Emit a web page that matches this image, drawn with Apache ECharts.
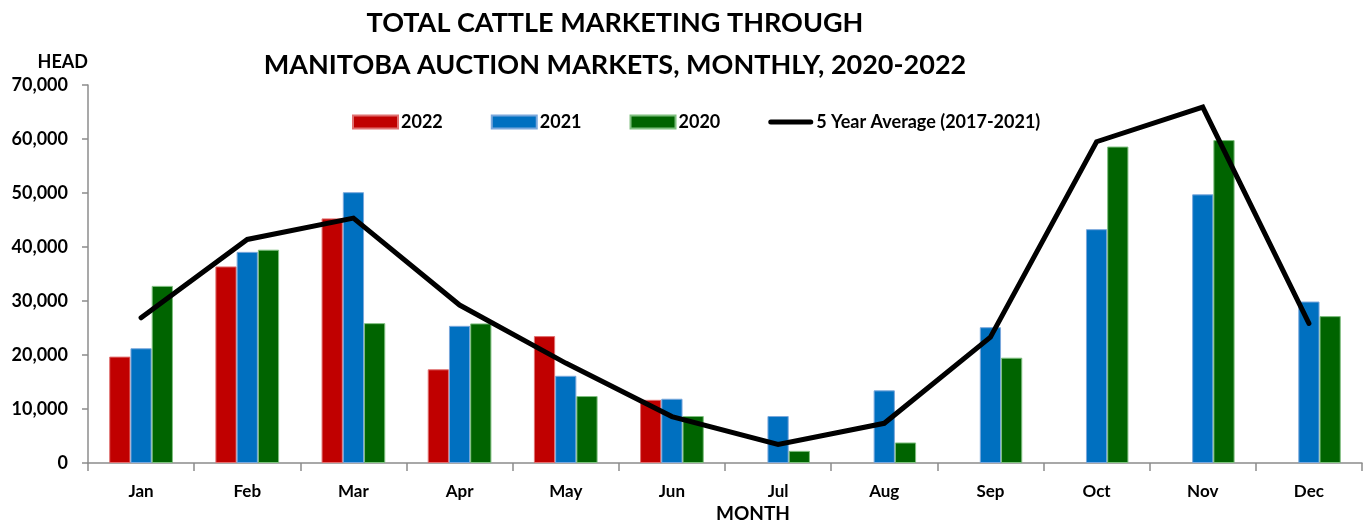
<!DOCTYPE html>
<html>
<head>
<meta charset="utf-8">
<script src="https://cdn.jsdelivr.net/npm/echarts@6/dist/echarts.min.js"></script>
<style>html,body{margin:0;padding:0;background:#fff}#c{width:1372px;height:523px}</style>
</head>
<body>
<div id="c"></div>
<script>
var months = ['Jan','Feb','Mar','Apr','May','Jun','Jul','Aug','Sep','Oct','Nov','Dec'];
var yTicks = [0,10000,20000,30000,40000,50000,60000,70000];
var s2022 = [19700, 36400, 45300, 17350, 23500, 11700, null, null, null, null, null, null];
var s2021 = [21250, 39100, 50150, 25400, 16150, 11900, 8700, 13450, 25150, 43300, 49750, 29900];
var s2020 = [32800, 39500, 25900, 25850, 12400, 8700, 2250, 3800, 19500, 58600, 59800, 27200];
var avg5 = [26900, 41400, 45350, 29250, 18500, 8600, 3450, 7350, 23300, 59500, 65900, 25850];

var FONT = 'Lato';
var chart = echarts.init(document.getElementById('c'));
chart.setOption({
  animation: false,
  textStyle: {fontFamily: FONT},
  graphic: [
    {type:'text', x: 615, y: 23, style:{text:'TOTAL CATTLE MARKETING THROUGH', font:'bold 27px ' + FONT, fill:'#000', textAlign:'center', textVerticalAlign:'middle'}},
    {type:'text', x: 615, y: 65, style:{text:'MANITOBA AUCTION MARKETS, MONTHLY, 2020-2022', font:'bold 27px ' + FONT, fill:'#000', textAlign:'center', textVerticalAlign:'middle'}},
    {type:'text', x: 753, y: 514, style:{text:'MONTH', font:'bold 19px ' + FONT, fill:'#000', textAlign:'center', textVerticalAlign:'middle'}}
  ],
  legend: {
    left: 347, top: 108,
    itemWidth: 45, itemHeight: 13, itemGap: 48,
    textStyle: {fontFamily: FONT, fontWeight: 'bold', fontSize: 18, color: '#000', padding:[0,0,0,-2]},
    data: [
      {name:'2022', icon:'rect'},
      {name:'2021', icon:'rect'},
      {name:'2020', icon:'rect'},
      {name:'5 Year Average (2017-2021)', icon:'path://M2.5,0 L42.5,0 A2.5,2.5,0,0,1,42.5,5 L2.5,5 A2.5,2.5,0,0,1,2.5,0Z'}
    ]
  },
  grid: {left: 88, right: 10, top: 85, bottom: 60, containLabel: false},
  xAxis: {
    type: 'category', data: months,
    axisLine: {lineStyle: {color: '#8c8c8c', width: 1.5}},
    axisTick: {show: true, length: 8, lineStyle: {color: '#8c8c8c', width: 1.5}},
    axisLabel: {color: '#000', fontWeight: 'bold', fontSize: 17, margin: 20, fontFamily: FONT}
  },
  yAxis: {
    type: 'value', min: 0, max: 70000, interval: 10000,
    name: 'HEAD', nameLocation: 'end', nameGap: 14,
    nameTextStyle: {color:'#000', fontWeight:'bold', fontSize: 18, align:'right', fontFamily: FONT},
    splitLine: {show: false},
    axisLine: {show: true, lineStyle: {color: '#8c8c8c', width: 1.5}},
    axisTick: {show: true, length: 6, lineStyle: {color: '#8c8c8c', width: 1.5}},
    axisLabel: {color: '#000', fontWeight: 'bold', fontSize: 18, margin: 20, fontFamily: FONT,
      formatter: function(v){ return v.toLocaleString('en-US'); }}
  },
  series: [
    {name:'2022', type:'bar', data: s2022, barGap: '0%', barCategoryGap: '40%',
      itemStyle:{color:'#C00000', borderColor:'#e07070', borderWidth:1}},
    {name:'2021', type:'bar', data: s2021, barGap: '0%', barCategoryGap: '40%',
      itemStyle:{color:'#0070C0', borderColor:'#7aa8dc', borderWidth:1}},
    {name:'2020', type:'bar', data: s2020, barGap: '0%', barCategoryGap: '40%',
      itemStyle:{color:'#006400', borderColor:'#7fbf7f', borderWidth:1}},
    {name:'5 Year Average (2017-2021)', type:'line', data: avg5, symbol:'none', z: 5,
      lineStyle:{color:'#000', width:5, cap:'round', join:'miter'}, itemStyle:{color:'#000'}}
  ]
});
</script>
</body>
</html>
